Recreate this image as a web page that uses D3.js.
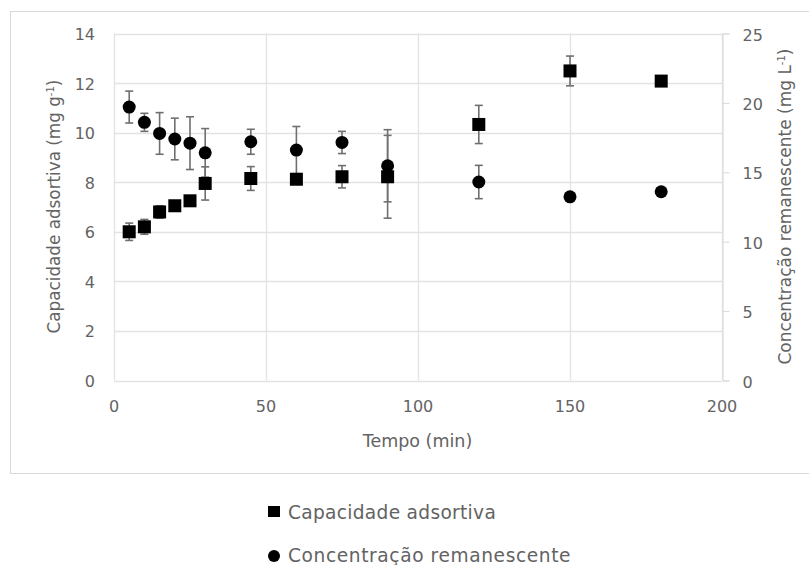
<!DOCTYPE html>
<html>
<head>
<meta charset="utf-8">
<script src="https://cdn.jsdelivr.net/npm/d3@7"></script>
<style>
  body { margin: 0; background: #fff; }
  svg text { font-family: "DejaVu Sans", sans-serif; fill: #636363; }
</style>
</head>
<body>
<div id="chart"></div>
<script>
// time (min)
const tempo = [5, 10, 15, 20, 25, 30, 45, 60, 75, 90, 120, 150, 180];
// capacidade adsortiva (mg g-1), left axis
const capacidade = [6.0, 6.2, 6.8, 7.05, 7.25, 7.95, 8.15, 8.12, 8.22, 8.22, 10.33, 12.49, 12.08];
const capErr = [0.35, 0.3, 0.25, 0.1, 0.1, 0.67, 0.48, 0.1, 0.45, 1.67, 0.77, 0.6, 0.1];
// concentracao remanescente (mg L-1), right axis
const concentracao = [19.7, 18.6, 17.8, 17.4, 17.1, 16.4, 17.2, 16.6, 17.15, 15.47, 14.3, 13.23, 13.6];
const concErr = [1.15, 0.65, 1.5, 1.5, 1.9, 1.75, 0.9, 1.7, 0.8, 2.6, 1.2, 0.1, 0.25];

const leftTicks = [0, 2, 4, 6, 8, 10, 12, 14];
const rightTicks = [0, 5, 10, 15, 20, 25];
const xTicks = [0, 50, 100, 150, 200];

const width = 809, height = 565;
const svg = d3.select('#chart').append('svg')
  .attr('width', width).attr('height', height);

// outer frame
svg.append('rect')
  .attr('x', 10.5).attr('y', 11.5)
  .attr('width', 820).attr('height', 462)
  .attr('fill', 'none').attr('stroke', '#d9d9d9');

const x = d3.scaleLinear().domain([0, 200]).range([114, 722]);
const yL = d3.scaleLinear().domain([0, 14]).range([380.5, 33.5]);
const yR = d3.scaleLinear().domain([0, 25]).range([380.5, 33.5]);

// gridlines
svg.append('g').selectAll('line.h').data(leftTicks).join('line')
  .attr('x1', x(0)).attr('x2', x(200))
  .attr('y1', d => Math.round(yL(d)) + 0.5).attr('y2', d => Math.round(yL(d)) + 0.5)
  .attr('stroke', '#e3e3e3').attr('stroke-width', 1.3);
svg.append('g').selectAll('line.v').data(xTicks).join('line')
  .attr('x1', d => Math.round(x(d)) + 0.5).attr('x2', d => Math.round(x(d)) + 0.5)
  .attr('y1', yL(14)).attr('y2', yL(0))
  .attr('stroke', '#e3e3e3').attr('stroke-width', 1.3);

// left axis labels
svg.append('g').selectAll('text').data(leftTicks).join('text')
  .attr('x', 95).attr('y', d => yL(d) + 6.5)
  .attr('text-anchor', 'end').attr('font-size', 16)
  .text(d => d);

// bottom axis labels
svg.append('g').selectAll('text').data(xTicks).join('text')
  .attr('x', d => x(d)).attr('y', 412)
  .attr('text-anchor', 'middle').attr('font-size', 16)
  .text(d => d);

// right axis
const rAxis = svg.append('g').attr('transform', `translate(${Math.round(x(200)) + 0.5},0)`)
  .call(d3.axisRight(yR).tickValues(rightTicks).tickSize(7).tickPadding(13));
rAxis.select('.domain').attr('stroke', '#d9d9d9');
rAxis.selectAll('line').attr('stroke', '#d9d9d9');
rAxis.selectAll('text').attr('font-size', 16).attr('fill', '#636363')
  .attr('dy', 6.5).attr('y', 0)
  .style('font-family', '"DejaVu Sans", sans-serif');

// axis titles
const lt = svg.append('text')
  .attr('transform', `translate(60,206.5) rotate(-90)`)
  .attr('text-anchor', 'middle').attr('font-size', 16.8);
lt.append('tspan').text('Capacidade adsortiva (mg g');
lt.append('tspan').attr('dy', -6).attr('font-size', 10).text('-1');
lt.append('tspan').attr('dy', 6).text(')');

const rt = svg.append('text')
  .attr('transform', `translate(791,206.5) rotate(-90)`)
  .attr('text-anchor', 'middle').attr('font-size', 17);
rt.append('tspan').text('Concentração remanescente (mg L');
rt.append('tspan').attr('dy', -6).attr('font-size', 10).text('-1');
rt.append('tspan').attr('dy', 6).text(')');

svg.append('text')
  .attr('x', 417.5).attr('y', 447)
  .attr('text-anchor', 'middle').attr('font-size', 17.5)
  .text('Tempo (min)');

// error bars
function errBars(vals, errs, yS) {
  const g = svg.append('g').attr('stroke', '#6f6f6f').attr('stroke-width', 1.6);
  tempo.forEach((t, i) => {
    const cx = x(t), y1 = yS(vals[i] - errs[i]), y2 = yS(vals[i] + errs[i]);
    g.append('line').attr('x1', cx).attr('x2', cx).attr('y1', y1).attr('y2', y2);
    g.append('line').attr('x1', cx - 4).attr('x2', cx + 4).attr('y1', y1).attr('y2', y1);
    g.append('line').attr('x1', cx - 4).attr('x2', cx + 4).attr('y1', y2).attr('y2', y2);
  });
}
errBars(capacidade, capErr, yL);
errBars(concentracao, concErr, yR);

// markers
svg.append('g').selectAll('rect').data(tempo).join('rect')
  .attr('x', d => x(d) - 6.5)
  .attr('y', (d, i) => yL(capacidade[i]) - 6.5)
  .attr('width', 13).attr('height', 13)
  .attr('fill', '#000');

svg.append('g').selectAll('circle').data(tempo).join('circle')
  .attr('cx', d => x(d))
  .attr('cy', (d, i) => yR(concentracao[i]))
  .attr('r', 6.5)
  .attr('fill', '#000');

// legend
const lg = svg.append('g');
lg.append('rect').attr('x', 268).attr('y', 506).attr('width', 12).attr('height', 11).attr('fill', '#000');
lg.append('text').attr('x', 288).attr('y', 519).attr('font-size', 18.6).attr('letter-spacing', 0.3).text('Capacidade adsortiva');
lg.append('circle').attr('cx', 274).attr('cy', 556).attr('r', 6).attr('fill', '#000');
lg.append('text').attr('x', 288).attr('y', 562).attr('font-size', 18.6).attr('letter-spacing', 0.6).text('Concentração remanescente');
</script>
</body>
</html>
